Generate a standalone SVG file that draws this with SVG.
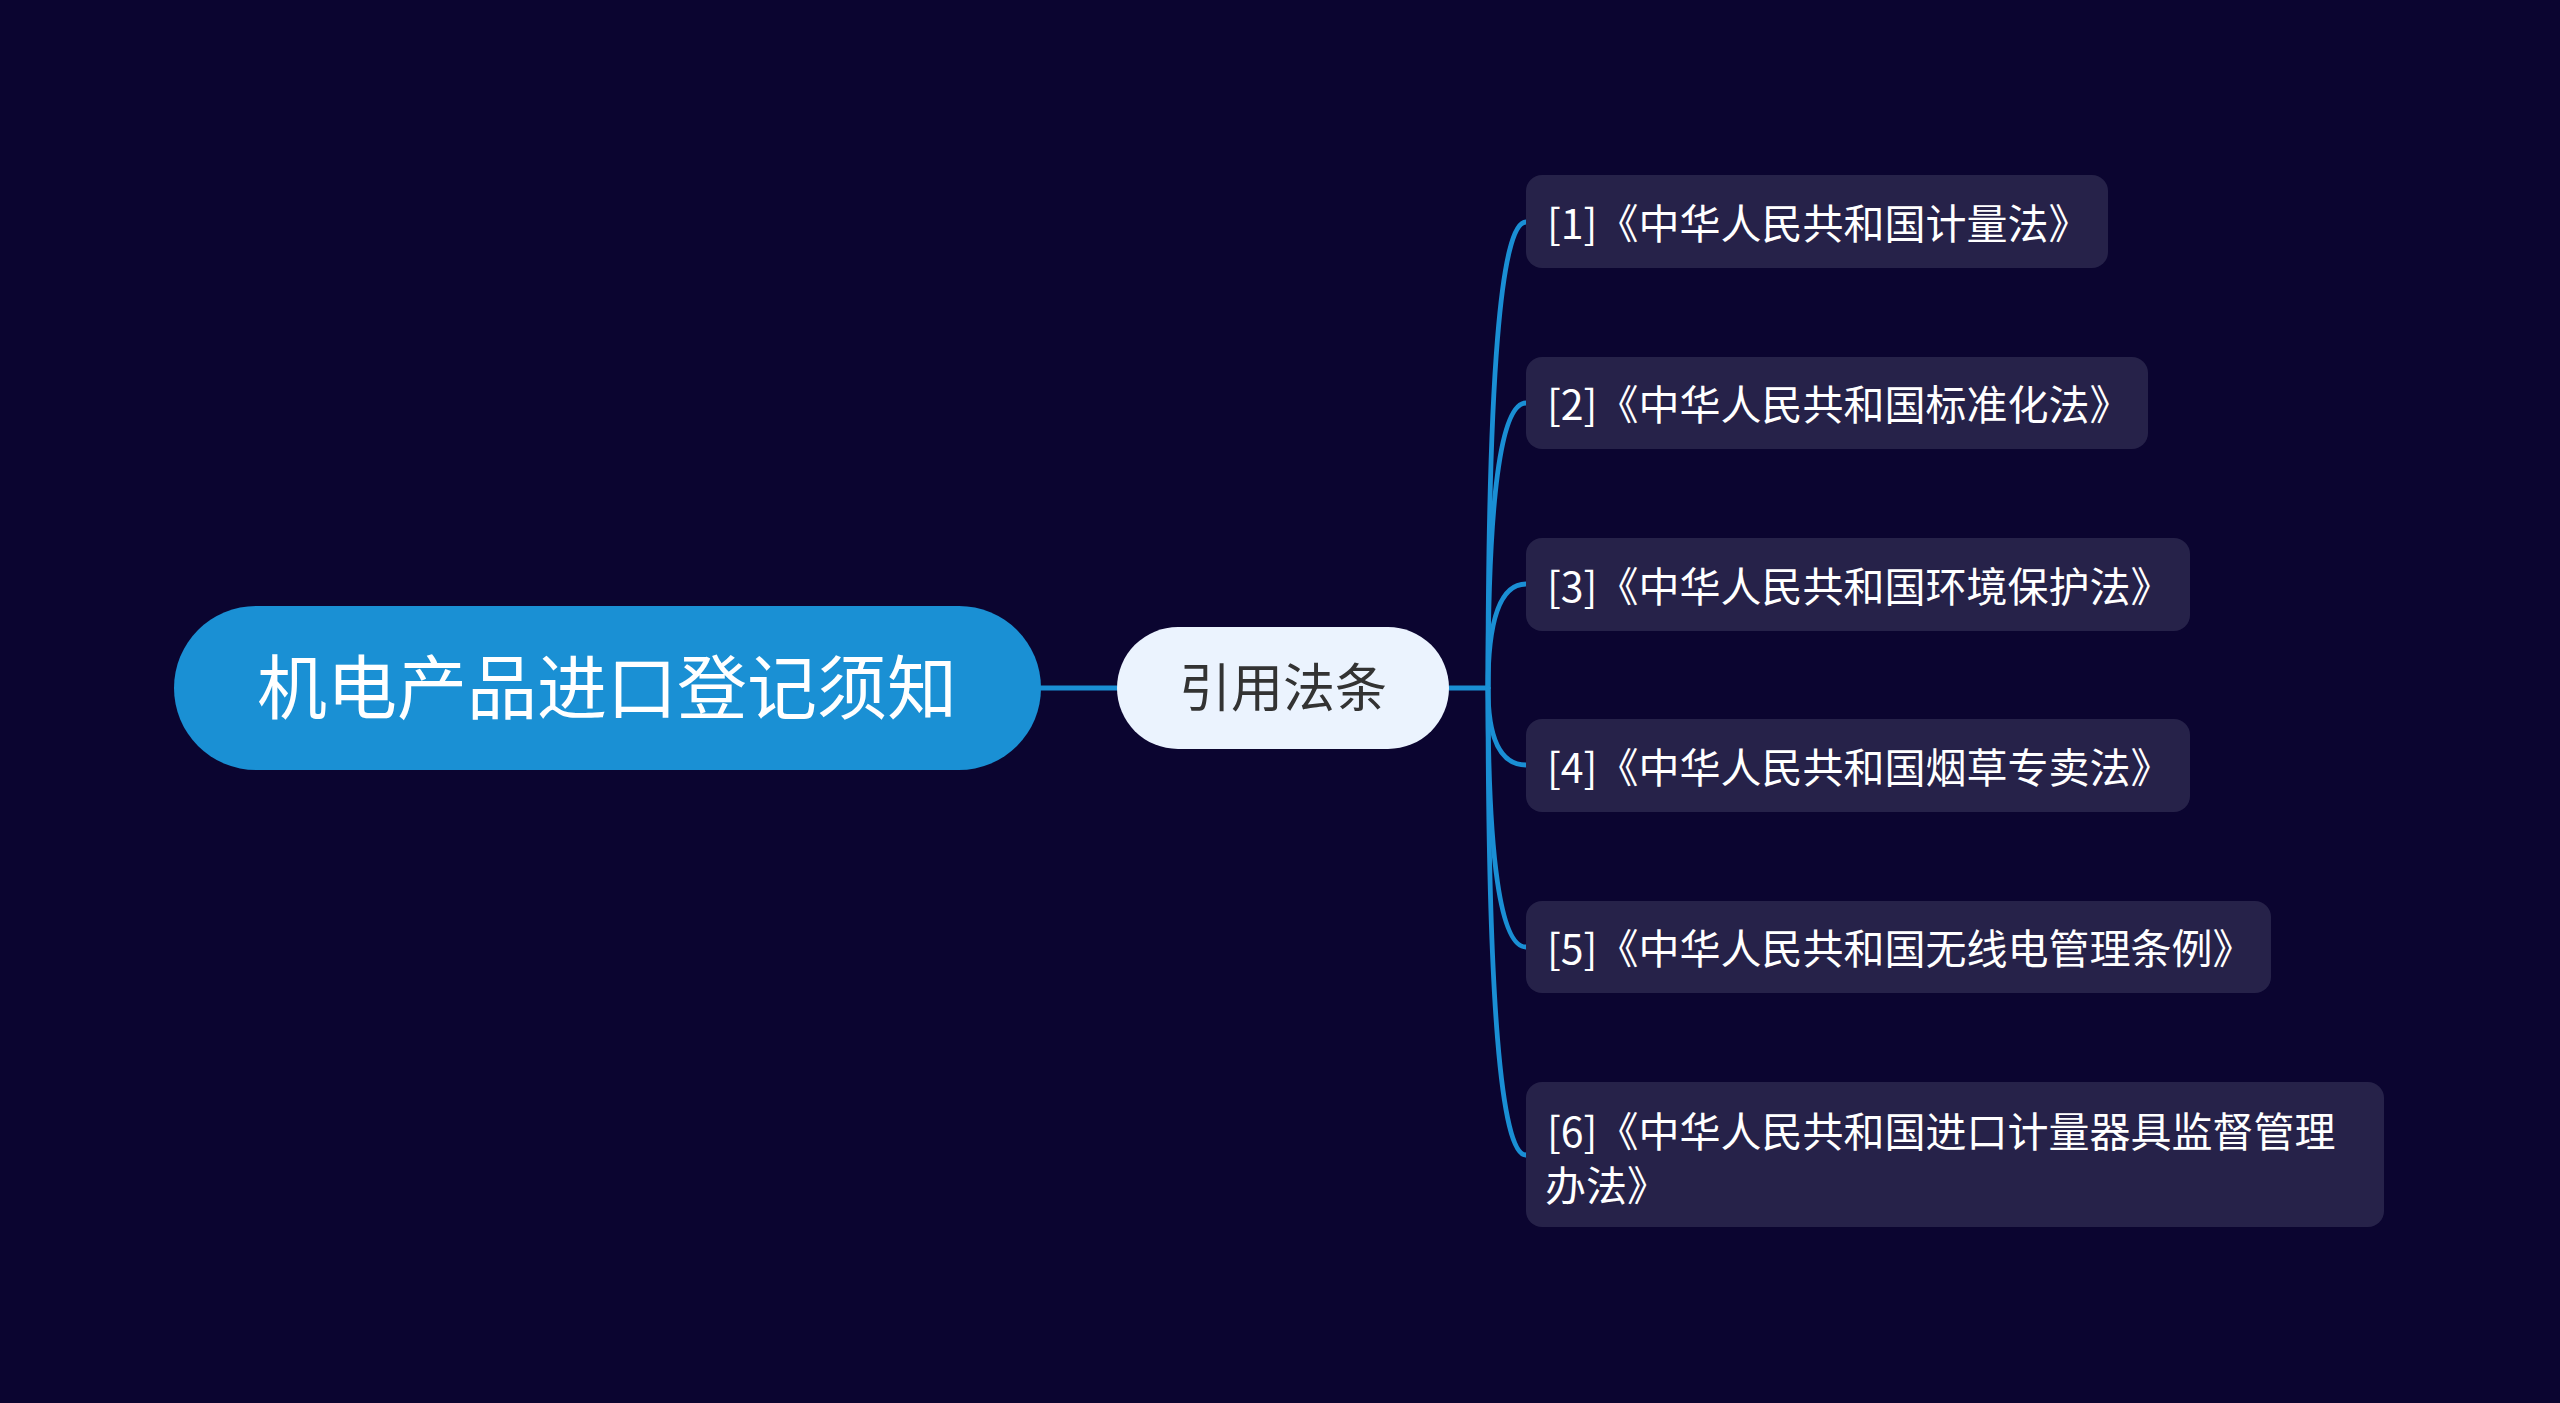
<svg xmlns="http://www.w3.org/2000/svg" width="2560" height="1403" viewBox="0 0 2560 1403">
<style>
.bg{fill:#0b0530}
.conn{fill:none;stroke:#1a8fd4;stroke-width:4.8;stroke-linecap:round}
.root rect{fill:#1a90d4}
.root text{fill:#ffffff;font-size:70px}
.branch rect{fill:#ebf3fe}
.branch text{fill:#333333;font-size:52px}
.leaf rect{fill:#262249}
.leaf text{fill:#ffffff;font-size:41px}
text{font-family:"Noto Sans CJK SC","Noto Sans",sans-serif}
</style>
<rect class="bg" x="0" y="0" width="2560" height="1403"/>
<g id="connectors">
<path class="conn" d="M1041 688 L1117 688"/>
<path class="conn" d="M1449 688 L1488 688"/>
<path class="conn" d="M1488 688 Q1488 222 1526 222"/>
<path class="conn" d="M1488 688 Q1488 403 1526 403"/>
<path class="conn" d="M1488 688 Q1488 584 1526 584"/>
<path class="conn" d="M1488 688 Q1488 765 1526 765"/>
<path class="conn" d="M1488 688 Q1488 947 1526 947"/>
<path class="conn" d="M1488 688 Q1488 1155 1526 1155"/>
</g>
<g id="root" class="root">
<rect x="174" y="606" width="867" height="164" rx="82"/>
<text x="607" y="714" text-anchor="middle">机电产品进口登记须知</text>
</g>
<g id="branch" class="branch">
<rect x="1117" y="627" width="332" height="122" rx="61"/>
<text x="1283" y="707" text-anchor="middle">引用法条</text>
</g>
<g id="leaf1" class="leaf">
<rect x="1526" y="175" width="582" height="93" rx="16"/>
<text x="1547" y="239">[1]《中华人民共和国计量法》</text>
</g>
<g id="leaf2" class="leaf">
<rect x="1526" y="357" width="622" height="92" rx="16"/>
<text x="1547" y="420">[2]《中华人民共和国标准化法》</text>
</g>
<g id="leaf3" class="leaf">
<rect x="1526" y="538" width="664" height="93" rx="16"/>
<text x="1547" y="602">[3]《中华人民共和国环境保护法》</text>
</g>
<g id="leaf4" class="leaf">
<rect x="1526" y="719" width="664" height="93" rx="16"/>
<text x="1547" y="783">[4]《中华人民共和国烟草专卖法》</text>
</g>
<g id="leaf5" class="leaf">
<rect x="1526" y="901" width="745" height="92" rx="16"/>
<text x="1547" y="964">[5]《中华人民共和国无线电管理条例》</text>
</g>
<g id="leaf6" class="leaf">
<rect x="1526" y="1082" width="858" height="145" rx="16"/>
<text x="1547" y="1147">[6]《中华人民共和国进口计量器具监督管理</text>
<text x="1545" y="1201">办法》</text>
</g>
</svg>
